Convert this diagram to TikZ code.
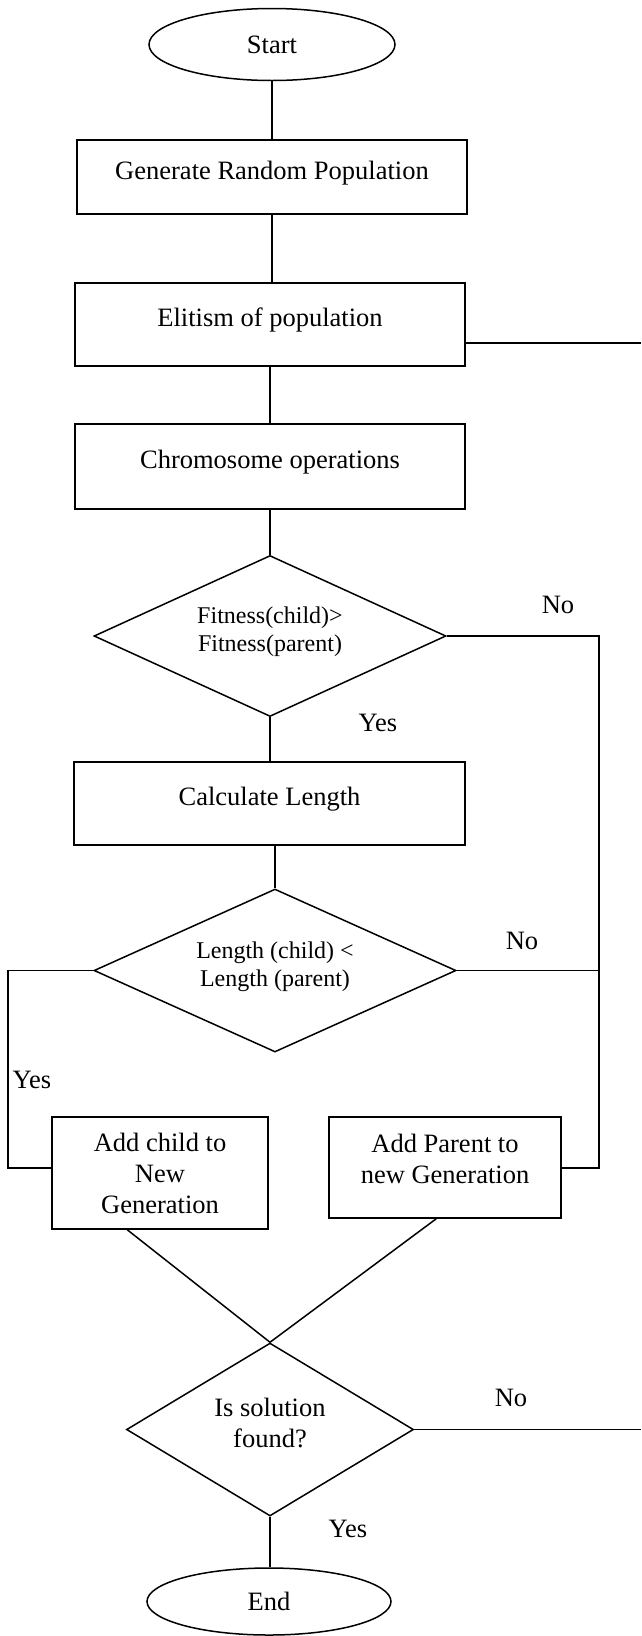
\documentclass[tikz,border=0pt]{standalone}
\usepackage{fontspec}
\setmainfont{Liberation Serif}
\usetikzlibrary{shapes.geometric}
\begin{document}
\begin{tikzpicture}[x=1pt,y=-1pt,line width=1.5pt,
  every node/.style={font=\fontsize{26.5}{31}\selectfont},
  term/.style={draw,ellipse,inner sep=0pt},
  box/.style={draw,rectangle,inner sep=0pt,text height=12pt,text depth=8pt},
  mbox/.style={draw,rectangle,inner sep=0pt,align=center},
  dec/.style={draw,diamond,inner sep=0pt,align=center,text depth=13pt},
  small/.style={font=\fontsize{24}{28}\selectfont},
  lab/.style={inner sep=0pt}]
\useasboundingbox (0,0) rectangle (641,1636);

\node[term,minimum width=246pt,minimum height=72pt] (start) at (272,44.5) {Start};
\node[box,minimum width=390pt,minimum height=74pt] (gen) at (272,177) {Generate Random Population};
\node[box,minimum width=390pt,minimum height=83pt] (elit) at (270,324.5) {Elitism of population};
\node[box,minimum width=390pt,minimum height=85pt] (chrom) at (270,466.5) {Chromosome operations};
\node[dec,small,aspect=2.19,minimum width=352pt,minimum height=161pt] (d1) at (270,636) {Fitness(child)>\\Fitness(parent)};
\node[box,minimum width=391pt,minimum height=83pt] (calc) at (269.5,803.5) {Calculate Length};
\node[dec,small,aspect=2.22,minimum width=362pt,minimum height=163pt] (d2) at (275,970.5) {Length (child) <\\Length (parent)};
\node[mbox,minimum width=216pt,minimum height=112pt] (child) at (160,1173) {Add child to\\New\\Generation};
\node[mbox,minimum width=232pt,minimum height=101pt,text depth=18pt] (parent) at (445,1167.5) {Add Parent to\\new Generation};
\node[dec,aspect=1.66,minimum width=287pt,minimum height=173pt] (d3) at (270,1429.5) {Is solution\\found?};
\node[term,minimum width=244pt,minimum height=67pt] (end) at (269,1601.5) {End};

\node[lab] (no1) at (558,605) {No};
\node[lab] (yes1) at (378,723) {Yes};
\node[lab] (no2) at (522,941) {No};
\node[lab] (yes2) at (32,1080) {Yes};
\node[lab] (no3) at (511,1398) {No};
\node[lab] (yes3) at (348,1529) {Yes};

\coordinate (rbus) at (599,1168);
\coordinate (lbus) at (8,1168);
\coordinate (exit1) at (641,343);
\coordinate (exit3) at (641,1429.5);

\draw (start.south) -- (start.south |- gen.north);
\draw (gen.south) -- (gen.south |- elit.north);
\draw (elit.south) -- (elit.south |- chrom.north);
\draw (chrom.south) -- (chrom.south |- d1.north);
\draw (d1.south) -- (d1.south |- calc.north);
\draw (d2.north |- calc.south) -- (d2.north);
\draw (elit.east |- exit1) -- (exit1);
\draw (d1.east) -| (rbus) -- (rbus -| parent.east);
\draw (d2.east) -- (d2.east -| rbus);
\draw (d2.west) -| (lbus) -- (lbus -| child.west);
\draw ([xshift=76pt]child.south west) -- (d3.north);
\draw ([xshift=108pt]parent.south west) -- (d3.north);
\draw (d3.east) -- (exit3);
\draw (d3.south) -- (d3.south |- end.north);
\end{tikzpicture}
\end{document}
